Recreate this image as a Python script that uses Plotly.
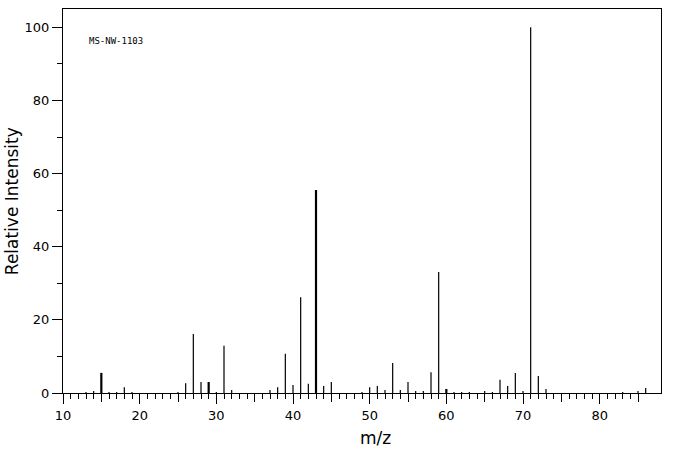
import plotly.graph_objects as go

# ---- data ----
mz = [13, 14, 15, 16, 17, 18, 19, 25, 26, 27, 28, 29, 30, 31, 32,
      37, 38, 39, 40, 41, 42, 43, 44, 45, 49, 50, 51, 52, 53, 54,
      55, 56, 57, 58, 59, 60, 61, 62, 63, 65, 66, 67, 68, 69, 70,
      71, 72, 73, 83, 85, 86]
intensity = [0.3, 0.55, 5.5, 0.3, 0.3, 1.6, 0.3, 0.3, 2.7, 16.1, 3.0, 3.0, 0.3, 12.9, 0.8,
             0.8, 1.6, 10.7, 2.2, 26.2, 2.5, 55.5, 1.9, 3.0, 0.3, 1.6, 1.9, 0.8, 8.2, 0.8,
             3.0, 0.55, 0.55, 5.7, 33.1, 1.1, 0.3, 0.3, 0.3, 0.55, 0.3, 3.6, 1.9, 5.5, 0.55,
             100.0, 4.65, 1.1, 0.3, 0.55, 1.4]
bold_peaks = [15, 29, 43, 60]
x_major_ticks = [10, 20, 30, 40, 50, 60, 70, 80]
x_mid_ticks = [15, 25, 35, 45, 55, 65, 75, 85]
x_minor_ticks = list(range(10, 86))
y_major_ticks = [0, 20, 40, 60, 80, 100]
y_minor_ticks = [10, 30, 50, 70, 90]
label_text = "MS-NW-1103"

FONT = "DejaVu Sans"


def stems(xs, ys):
    sx, sy = [], []
    for a, b in zip(xs, ys):
        sx += [a, a, None]
        sy += [0, b, None]
    return sx, sy


thin = [(a, b) for a, b in zip(mz, intensity) if a not in bold_peaks]
thick = [(a, b) for a, b in zip(mz, intensity) if a in bold_peaks]

fig = go.Figure()
tx, ty = stems([p[0] for p in thin], [p[1] for p in thin])
fig.add_trace(go.Scatter(x=tx, y=ty, mode="lines",
                         line=dict(color="black", width=1.2), hoverinfo="skip"))
kx, ky = stems([p[0] for p in thick], [p[1] for p in thick])
fig.add_trace(go.Scatter(x=kx, y=ky, mode="lines",
                         line=dict(color="black", width=2.2), hoverinfo="skip"))
# invisible trace to activate the overlay axis used for the mid-length ticks
fig.add_trace(go.Scatter(x=[x_mid_ticks[0]], y=[0], xaxis="x2", mode="markers",
                         marker=dict(opacity=0), hoverinfo="skip"))

fig.update_layout(
    width=676, height=455,
    margin=dict(l=63, r=15, t=9, b=62),
    paper_bgcolor="white", plot_bgcolor="white",
    showlegend=False,
    font=dict(family=FONT, color="black", size=13),
    xaxis=dict(
        range=[10, 88], showgrid=False, zeroline=False,
        showline=True, linecolor="black", linewidth=1, mirror=True,
        tickmode="array", tickvals=x_major_ticks,
        ticks="outside", ticklen=10, tickcolor="black", tickwidth=1,
        tickfont=dict(size=13, family=FONT),
        minor=dict(tickmode="array", tickvals=x_minor_ticks, ticks="outside",
                   ticklen=5, tickcolor="black", tickwidth=1, showgrid=False),
    ),
    xaxis2=dict(
        overlaying="x", matches="x", side="bottom", anchor="y",
        showgrid=False, zeroline=False, showline=False,
        tickmode="array", tickvals=x_mid_ticks, showticklabels=False,
        ticks="outside", ticklen=8, tickcolor="black", tickwidth=1,
    ),
    yaxis=dict(
        range=[0, 105], showgrid=False, zeroline=False,
        showline=True, linecolor="black", linewidth=1, mirror=True,
        tickmode="array", tickvals=y_major_ticks,
        ticks="outside", ticklen=10, tickcolor="black", tickwidth=1,
        tickfont=dict(size=13, family=FONT),
        minor=dict(tickmode="array", tickvals=y_minor_ticks, ticks="outside",
                   ticklen=5, tickcolor="black", tickwidth=1, showgrid=False),
    ),
    annotations=[
        dict(text=label_text, xref="paper", yref="paper", x=0.04, y=0.917,
             xanchor="left", yanchor="middle", showarrow=False,
             font=dict(family="DejaVu Sans Mono", size=9, color="black")),
        dict(text="m/z", xref="paper", yref="paper", x=0.522, y=-0.118,
             xanchor="center", yanchor="middle", showarrow=False,
             font=dict(family=FONT, size=17, color="black")),
        dict(text="Relative Intensity", xref="paper", yref="paper", x=-0.085,
             y=0.5, xanchor="center", yanchor="middle", textangle=-90,
             showarrow=False, font=dict(family=FONT, size=17, color="black")),
    ],
)

fig.write_html("out.html")
